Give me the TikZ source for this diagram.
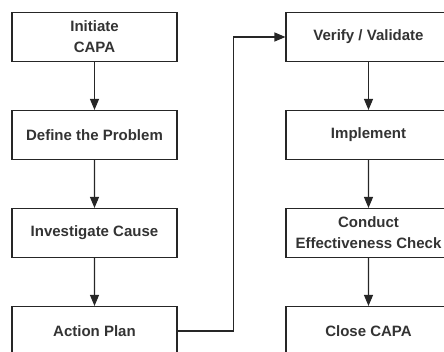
\documentclass[tikz,border=0pt]{standalone}
\usepackage{fontspec}
\setmainfont{Liberation Sans}
\usetikzlibrary{trees}
\usetikzlibrary{arrows.meta}

\begin{document}
\begin{tikzpicture}[x=1pt,y=1pt,level distance=98pt,
	box/.style={rectangle,draw=black!85,line width=1.1pt,minimum width=165pt,minimum height=49pt,align=center,text=black!80,font=\fontsize{15}{21}\selectfont\bfseries},
	edge from parent/.style={draw=black!85,line width=1.1pt,-{Triangle[length=11pt,width=9pt]}}]
\useasboundingbox (0,0) rectangle (444,-352);
\clip (0,0) rectangle (444,-352);
\node [box] (init) at (94.5,-37) {Initiate\\CAPA}
	child {node [box] (define) {Define the Problem}
		child {node [box] (investigate) {Investigate Cause}
			child {node [box] (plan) {Action Plan}}
		}
	};
\node [box] (verify) at (368.5,-37) {Verify / Validate}
	child {node [box] (implement) {Implement}
		child {node [box] (conduct) {Conduct\\Effectiveness Check}
			child {node [box] (close) {Close CAPA}}
		}
	};
\draw [draw=black!85,line width=1.1pt,-{Triangle[length=11pt,width=9pt]}] (plan.east) -- ++(56,0) |- (verify.west);
\end{tikzpicture}
\end{document}
